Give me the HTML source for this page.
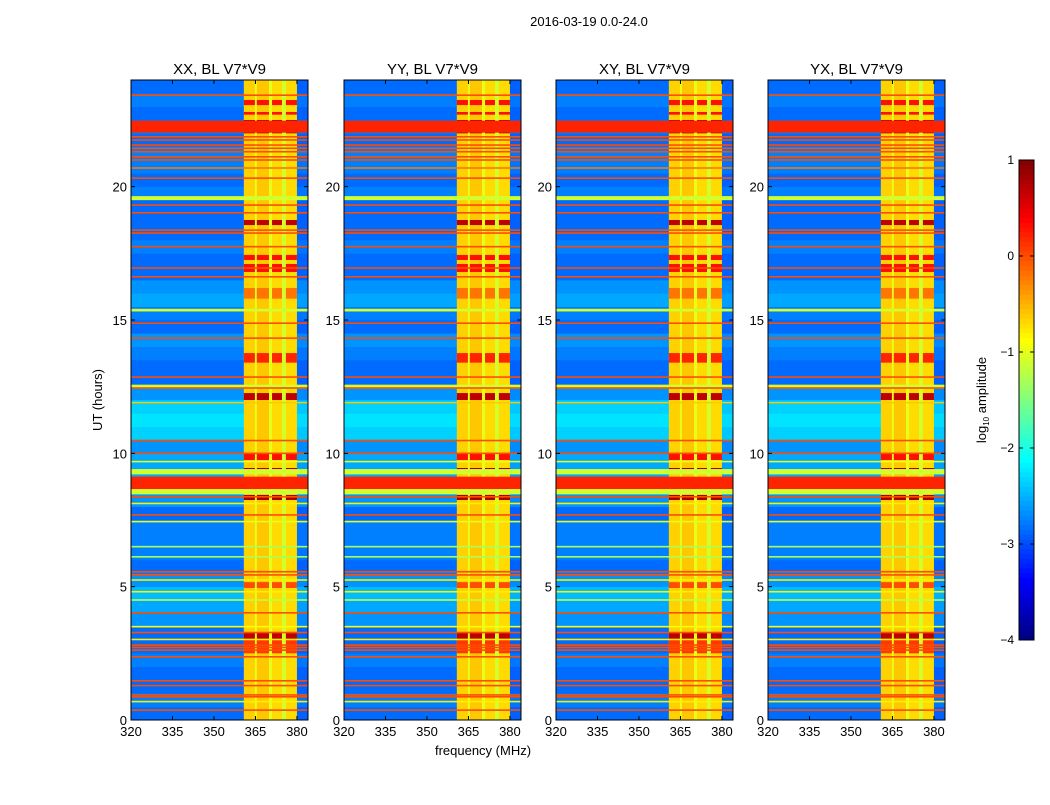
<!DOCTYPE html>
<html><head><meta charset="utf-8"><style>
body{margin:0;background:#fff;}
svg text{font-family:"Liberation Sans",sans-serif;}
</style></head><body>
<svg id="fig" width="1050" height="800" viewBox="0 0 1050 800" xmlns="http://www.w3.org/2000/svg">
<text x="589" y="26" font-size="13" text-anchor="middle">2016-03-19 0.0-24.0</text>
<text x="483" y="755" font-size="13" text-anchor="middle">frequency (MHz)</text>
<text transform="translate(102,400) rotate(-90)" font-size="13" text-anchor="middle">UT (hours)</text>
<g id="panels"></g>
<g id="cbar"></g>
<text transform="translate(986,400) rotate(-90)" font-size="13" text-anchor="middle">log<tspan font-size="8" dy="3">10</tspan><tspan dy="-3"> amplitude</tspan></text>
</svg>
<script>
const panelTitles=["XX, BL V7*V9","YY, BL V7*V9","XY, BL V7*V9","YX, BL V7*V9"];
const xTicks=[320,335,350,365,380];
const yTicks=[0,5,10,15,20];
const cbTicks=[1,0,-1,-2,-3,-4];
const freqEdges=[320,360.8,364.8,365.5,369.9,371,374.6,376,380,384];
const freqBase=[-2.85,-0.65,-1.0,-0.6,-1.0,-0.7,-1.1,-0.7,-2.9];
const isBlock=[0,1,0,1,0,1,0,1,0];
const bgOffset=[0,0.1,0,0,0.1,0,0,0.2,0.3,0.4,0.2,0,0.1,0.1,0.1,0,0.2,0.1,0.3,0.3,0.2,0.5,0.6,0.5,0.2,0,0,0.1,0.2,0,0.1,0.3,0.2,0,0,0.1,0,0,0,0.1,0,0.1,0.1,0,0.1,0,0.1,0];
const rfiHours=[10.48,10.0,9.69,9.31,8.85,8.56,8.37,8.12,7.69,7.44,6.5,6.12,5.56,5.44,5.25,4.81,4.5,4.02,3.5,3.28,3.02,2.81,2.72,2.62,2.37,1.47,1.29,0.94,0.87,0.69,0.37,23.43,22.25,21.87,21.75,21.56,21.44,21.31,21.12,21.0,20.7,20.32,19.57,19.31,19.02,18.37,18.26,17.75,16.95,16.62,15.37,14.88,14.32,12.86,12.5,12.45,11.9];
const rfiLevels=[0,0,-1,-1.1,0.2,-1.1,0,-0.8,0,-1,-1.3,-1.3,0,0,-0.8,-0.8,-1.2,0,-0.9,0,-0.8,0,0,0,0,0,0,0,0,-0.8,0,0,0.2,0,0,0,0,0,0,0,-0.2,0,-1.1,0,0,0,0,0,0,0,-1.1,0,0,0,-1.1,0,-0.6];
const rfiWidths=[0.06,0.06,0.06,0.2,0.55,0.2,0.06,0.06,0.06,0.06,0.06,0.06,0.06,0.06,0.06,0.06,0.06,0.06,0.06,0.06,0.06,0.06,0.06,0.06,0.06,0.06,0.06,0.06,0.06,0.06,0.06,0.06,0.45,0.06,0.06,0.06,0.06,0.06,0.06,0.06,0.06,0.06,0.15,0.06,0.06,0.06,0.06,0.06,0.06,0.06,0.1,0.06,0.06,0.06,0.15,0.06,0.05];
const burstStart=[9.75,9.22,8.55,8.25,4.95,3.0,2.5,23.06,22.7,22.0,18.56,17.25,16.8,13.4,12.0,15.8];
const burstEnd=[10.0,9.45,9.0,8.44,5.17,3.26,3.0,23.25,22.8,22.5,18.75,17.44,17.1,13.76,12.26,16.2];
const burstLevels=[0.3,0.8,0.7,0.8,0,0.7,0.1,0.3,0.3,0.8,0.7,0.3,0.3,0.2,0.7,-0.2];
const panelX=[131,344,556,768];
const PW=177, TOP=80, BOT=720, VMIN=-4, VMAX=1;
const NS="http://www.w3.org/2000/svg";
function jet(v){let t=(v-VMIN)/(VMAX-VMIN);t=Math.max(0,Math.min(1,t));
 const c=x=>Math.round(255*Math.max(0,Math.min(1,x)));
 const r=c(Math.min(4*t-1.5,-4*t+4.5)),g=c(Math.min(4*t-0.5,-4*t+3.5)),b=c(Math.min(4*t+0.5,-4*t+2.5));
 return `rgb(${r},${g},${b})`;}
function mk(tag,attrs,parent){const e=document.createElementNS(NS,tag);for(const k in attrs)e.setAttribute(k,attrs[k]);parent.appendChild(e);return e;}
const yS=h=>BOT-(h/24)*(BOT-TOP);
const panels=document.getElementById('panels');
panelX.forEach((x0,p)=>{
 const xS=f=>x0+(f-320)/64*PW;
 const g=mk('g',{},panels);
 
 
 const clip=mk('clipPath',{id:'c'+p},g);mk('rect',{x:x0,y:TOP,width:PW,height:BOT-TOP},clip);
 const hm=mk('g',{'clip-path':`url(#c${p})`},g);
 
 
 bgOffset.forEach((off,i)=>{freqBase.forEach((fb,j)=>{
  const v=fb+(j==0||j==8?off:0);
  const r=mk('rect',{x:xS(freqEdges[j]),y:yS((i+1)*0.5),width:xS(freqEdges[j+1])-xS(freqEdges[j])+0.3,height:yS(i*0.5)-yS((i+1)*0.5)+0.3,fill:jet(v)},hm);
  
  
 });});
 burstStart.forEach((s,k)=>{isBlock.forEach((b,j)=>{if(!b)return;
  const r=mk('rect',{x:xS(freqEdges[j]),y:yS(burstEnd[k]),width:xS(freqEdges[j+1])-xS(freqEdges[j]),height:yS(s)-yS(burstEnd[k]),fill:jet(burstLevels[k])},hm);
  
  
 });});
 rfiHours.forEach((h,k)=>{
  const w=rfiWidths[k];
  const r=mk('rect',{x:x0,y:yS(h+w/2),width:PW,height:Math.max(1.3,yS(h-w/2)-yS(h+w/2)),fill:jet(rfiLevels[k])},hm);
  
  
 });
 mk('rect',{x:x0,y:TOP,width:PW,height:BOT-TOP,fill:'none',stroke:'#000','stroke-width':1},g);
 const t=mk('text',{x:x0+PW/2,y:TOP-6,'font-size':15,'text-anchor':'middle'},g);t.textContent=panelTitles[p];
 
 
 xTicks.forEach(f=>{const x=xS(f);
  mk('line',{x1:x,x2:x,y1:BOT,y2:BOT-4,stroke:'#000'},g);mk('line',{x1:x,x2:x,y1:TOP,y2:TOP+4,stroke:'#000'},g);
  const l=mk('text',{x:x,y:BOT+16,'font-size':13,'text-anchor':'middle'},g);l.textContent=f;
  
  });
 yTicks.forEach(h=>{const y=yS(h);
  mk('line',{x1:x0,x2:x0+4,y1:y,y2:y,stroke:'#000'},g);mk('line',{x1:x0+PW,x2:x0+PW-4,y1:y,y2:y,stroke:'#000'},g);
  const l=mk('text',{x:x0-4,y:y+5,'font-size':13,'text-anchor':'end'},g);l.textContent=h;
  
  });
});
const cb=document.getElementById('cbar');
const CX=1019,CW=15,CT=160,CB=640;
const cyS=v=>CB-(v-VMIN)/(VMAX-VMIN)*(CB-CT);
for(let i=0;i<100;i++){const v0=VMIN+i*(VMAX-VMIN)/100,v1=v0+(VMAX-VMIN)/100;
 mk('rect',{x:CX,y:cyS(v1),width:CW,height:cyS(v0)-cyS(v1)+0.4,fill:jet((v0+v1)/2)},cb);}
mk('rect',{x:CX,y:CT,width:CW,height:CB-CT,fill:'none',stroke:'#000'},cb);
cbTicks.forEach(v=>{const y=cyS(v);
 mk('line',{x1:CX,x2:CX+4,y1:y,y2:y,stroke:'#000'},cb);mk('line',{x1:CX+CW,x2:CX+CW-4,y1:y,y2:y,stroke:'#000'},cb);
 const l=mk('text',{x:CX-5,y:y+4,'font-size':12,'text-anchor':'end'},cb);l.textContent=v<0?'\u2212'+(-v):v;
 
 });
</script>
</body></html>
